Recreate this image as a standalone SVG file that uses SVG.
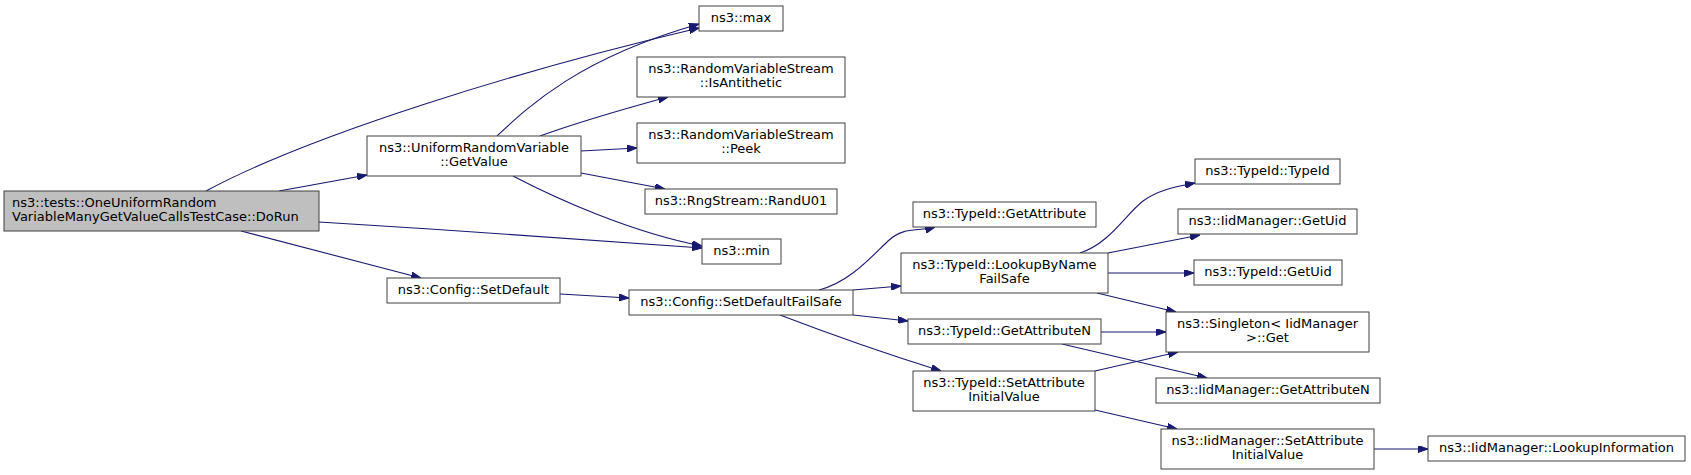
<svg xmlns="http://www.w3.org/2000/svg" width="1691" height="475" viewBox="0 0 1691 475">
<defs>
<style>
.n rect{fill:#ffffff;stroke:#404040;stroke-width:1}
.root rect{fill:#bfbfbf}
.n text{font-family:"DejaVu Sans","Liberation Sans",sans-serif;font-size:13px;fill:#000000;text-anchor:middle}
.root text{text-anchor:start}
.e path{fill:none;stroke:#191970;stroke-width:1.1;marker-end:url(#arr)}
</style>
<marker id="arr" viewBox="0 0 10 7" refX="10" refY="3.5" markerWidth="10" markerHeight="7" markerUnits="userSpaceOnUse" orient="auto">
<path d="M0,0 L10,3.5 L0,7 Z" fill="#191970" stroke="#191970" stroke-width="1"/>
</marker>
</defs>
<rect width="1691" height="475" fill="#ffffff"/>
<g id="edges" class="e">
<path d="M206,191 C310,135 520,70 699,28"/>
<path d="M497,136 C530,105 580,58 699,24"/>
<path d="M540,136 C565,127 620,110 668,97"/>
<path d="M581,151 L637,148"/>
<path d="M581,173 L665,189"/>
<path d="M513,176 C555,198 630,232 702,246"/>
<path d="M319,222 C450,230 600,240 702,248"/>
<path d="M279,191 L367,175"/>
<path d="M241,231 L421,278"/>
<path d="M560,294 L629,298"/>
<path d="M819,290 C850,282 872,256 888,241 C904,226 918,232 935,227"/>
<path d="M853,290 L901,286"/>
<path d="M853,315 L908,321"/>
<path d="M780,315 C840,338 890,355 941,371"/>
<path d="M1080,253 C1110,243 1125,215 1143,201 C1158,190 1175,187 1195,183"/>
<path d="M1108,253 L1200,235"/>
<path d="M1108,273 L1194,273"/>
<path d="M1097,293 L1176,312"/>
<path d="M1101,332 L1166,332"/>
<path d="M1062,344 L1207,378"/>
<path d="M1095,371 L1178,352"/>
<path d="M1095,410 L1177,429"/>
<path d="M1374,449 L1428,449"/>
</g>
<g id="node_dorun" class="n root"><rect x="4" y="191" width="315" height="40"/><text x="12" y="207">ns3::tests::OneUniformRandom</text><text x="12" y="221">VariableManyGetValueCallsTestCase::DoRun</text></g>
<g id="node_getvalue" class="n"><rect x="367" y="136" width="214" height="40"/><text x="474" y="152">ns3::UniformRandomVariable</text><text x="474" y="166">::GetValue</text></g>
<g id="node_max" class="n"><rect x="699" y="6" width="84" height="25"/><text x="741" y="22">ns3::max</text></g>
<g id="node_isantithetic" class="n"><rect x="637" y="57" width="208" height="40"/><text x="741" y="73">ns3::RandomVariableStream</text><text x="741" y="87">::IsAntithetic</text></g>
<g id="node_peek" class="n"><rect x="637" y="123" width="208" height="40"/><text x="741" y="139">ns3::RandomVariableStream</text><text x="741" y="153">::Peek</text></g>
<g id="node_randu01" class="n"><rect x="645" y="189" width="192" height="25"/><text x="741" y="205">ns3::RngStream::RandU01</text></g>
<g id="node_min" class="n"><rect x="702" y="239" width="79" height="25"/><text x="741.5" y="255">ns3::min</text></g>
<g id="node_setdefault" class="n"><rect x="387" y="278" width="173" height="25"/><text x="473.5" y="294">ns3::Config::SetDefault</text></g>
<g id="node_setdefaultfailsafe" class="n"><rect x="629" y="290" width="224" height="25"/><text x="741" y="306">ns3::Config::SetDefaultFailSafe</text></g>
<g id="node_getattribute" class="n"><rect x="913" y="202" width="183" height="25"/><text x="1004.5" y="218">ns3::TypeId::GetAttribute</text></g>
<g id="node_lookupbyname" class="n"><rect x="901" y="253" width="207" height="40"/><text x="1004.5" y="269">ns3::TypeId::LookupByName</text><text x="1004.5" y="283">FailSafe</text></g>
<g id="node_typeid_getattributen" class="n"><rect x="908" y="319" width="193" height="25"/><text x="1004.5" y="335">ns3::TypeId::GetAttributeN</text></g>
<g id="node_typeid_setattrinit" class="n"><rect x="913" y="371" width="182" height="40"/><text x="1004" y="387">ns3::TypeId::SetAttribute</text><text x="1004" y="401">InitialValue</text></g>
<g id="node_typeid_typeid" class="n"><rect x="1195" y="159" width="145" height="25"/><text x="1267.5" y="175">ns3::TypeId::TypeId</text></g>
<g id="node_iid_getuid" class="n"><rect x="1178" y="209" width="179" height="25"/><text x="1267.5" y="225">ns3::IidManager::GetUid</text></g>
<g id="node_typeid_getuid" class="n"><rect x="1194" y="260" width="148" height="25"/><text x="1268" y="276">ns3::TypeId::GetUid</text></g>
<g id="node_singleton" class="n"><rect x="1166" y="312" width="203" height="40"/><text x="1267.5" y="328">ns3::Singleton&lt; IidManager</text><text x="1267.5" y="342">&gt;::Get</text></g>
<g id="node_iid_getattributen" class="n"><rect x="1156" y="378" width="224" height="25"/><text x="1268" y="394">ns3::IidManager::GetAttributeN</text></g>
<g id="node_iid_setattrinit" class="n"><rect x="1161" y="429" width="213" height="40"/><text x="1267.5" y="445">ns3::IidManager::SetAttribute</text><text x="1267.5" y="459">InitialValue</text></g>
<g id="node_lookupinfo" class="n"><rect x="1428" y="436" width="257" height="25"/><text x="1556.5" y="452">ns3::IidManager::LookupInformation</text></g>
</svg>
